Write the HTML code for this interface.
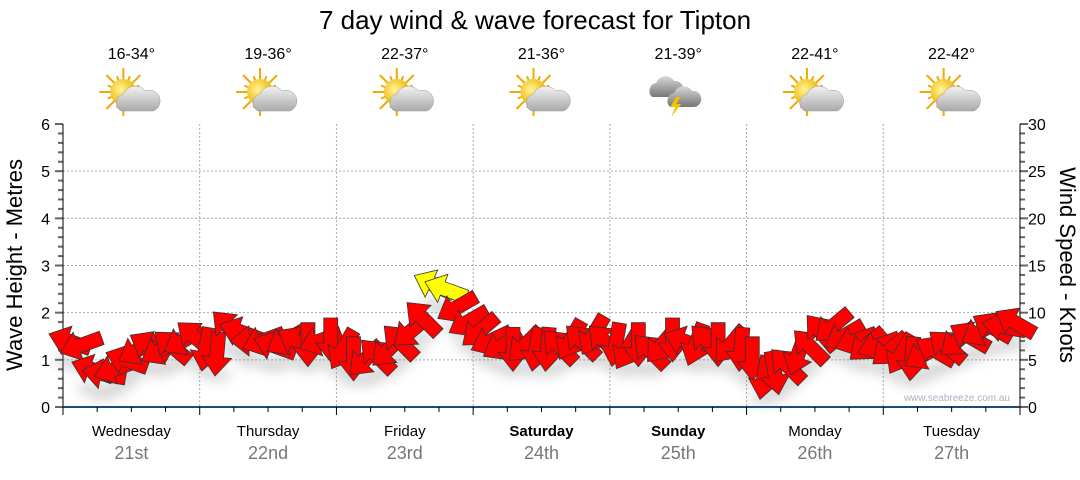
<!DOCTYPE html>
<html><head><meta charset="utf-8"><style>
body{margin:0;background:#fff;width:1080px;height:475px;overflow:hidden;font-family:"Liberation Sans",sans-serif}
</style></head><body>
<svg id="c" width="1080" height="475" xmlns="http://www.w3.org/2000/svg" font-family="Liberation Sans, sans-serif">
<defs>
<filter id="sh" x="-50%" y="-50%" width="200%" height="200%"><feGaussianBlur stdDeviation="6"/></filter>
<radialGradient id="sun" cx="0.4" cy="0.4" r="0.6"><stop offset="0" stop-color="#fff59a"/><stop offset="1" stop-color="#f0b400"/></radialGradient>
<linearGradient id="cloud" x1="0" y1="0" x2="0" y2="1"><stop offset="0" stop-color="#f2f2f2"/><stop offset="1" stop-color="#a9a9a9"/></linearGradient>
<linearGradient id="dcloud" x1="0" y1="0" x2="0" y2="1"><stop offset="0" stop-color="#d8d8d8"/><stop offset="1" stop-color="#777"/></linearGradient>
</defs>
<text x="535" y="29" font-size="26" text-anchor="middle" fill="#000">7 day wind &amp; wave forecast for Tipton</text>
<g id="grid"></g><g id="axes"></g><g id="topg"></g><g id="marks"></g>
<text x="1010" y="401" font-size="10" text-anchor="end" fill="#aab4c4">www.seabreeze.com.au</text>
<text transform="translate(22,265) rotate(-90)" font-size="22" text-anchor="middle">Wave Height - Metres</text>
<text transform="translate(1060,265) rotate(90)" font-size="22" text-anchor="middle">Wind Speed - Knots</text>
</svg>
<script>
const days=["Wednesday","Thursday","Friday","Saturday","Sunday","Monday","Tuesday"];
const dates=["21st","22nd","23rd","24th","25th","26th","27th"];
const temps=["16-34°","19-36°","22-37°","21-36°","21-39°","22-41°","22-42°"];
const icons=["partly","partly","partly","partly","storm","partly","partly"];
const weekend=[false,false,false,true,true,false,false];
const waveTicks=[0,1,2,3,4,5,6];
const windTicks=[0,5,10,15,20,25,30];
const windKnots=[7,6.5,4,3.5,4,5,6,6.5,6,6.5,7,7.5,
6,5.5,8.5,8,7,7,6.5,7,7,6.5,7,7,
6,5,5,5.5,6,7,8,9.5,13,12.5,10.5,9,
8,7,6.5,6,6.5,6,6,6.5,7,7,7.5,7,
6.5,6,6.5,6,6.5,7,7,6.5,7,6.5,6.5,6,
5,3,3.5,4.5,5.5,6.5,8,8.5,7.5,7,6.5,6.5,
6,5.5,5,5.5,6,6.5,7,7.5,8,8.5,8.5,9];
const windDir=[200,160,200,190,160,200,150,210,150,220,150,220,
100,95,225,200,180,160,200,150,210,90,160,90,
120,90,135,225,135,225,140,225,205,200,150,150,
140,155,150,90,135,100,95,225,120,225,120,225,
100,120,90,225,130,90,200,110,225,90,130,95,
90,100,80,225,110,225,230,140,150,160,140,160,
140,120,95,150,210,220,140,210,150,210,190,210];
const svg=document.getElementById('c');const NS="http://www.w3.org/2000/svg";
const X0=63,X1=1020,Y0=407,Y1=124,DW=(X1-X0)/7;
const yW=v=>Y0-(v/6)*(Y0-Y1);const yK=v=>Y0-(v/30)*(Y0-Y1);
const xT=i=>X0+(i+0.5)*DW/12;
function el(t,a,p){const e=document.createElementNS(NS,t);for(const k in a)e.setAttribute(k,a[k]);(p||svg).appendChild(e);return e;}
const grid=document.getElementById('grid'),axes=document.getElementById('axes'),topG=document.getElementById('topg'),marks=document.getElementById('marks');
waveTicks.forEach(v=>{if(v>0&&v<6){const l=el('line',{x1:X0,x2:X1,y1:yW(v),y2:yW(v),stroke:'#aaa','stroke-dasharray':'2,2'},grid);}
const t=el('text',{x:X0-13,y:yW(v)+6,'font-size':16,'text-anchor':'end'},axes);t.textContent=v;});
windTicks.forEach(v=>{const t=el('text',{x:X1+8,y:yK(v)+6,'font-size':16},axes);t.textContent=v;});
for(let i=1;i<7;i++){const l=el('line',{x1:X0+i*DW,x2:X0+i*DW,y1:Y1,y2:Y0,stroke:'#aaa','stroke-dasharray':'2,2'},grid);}
for(let i=0;i<=30;i++){const y=Y0-i*(Y0-Y1)/30,w=i%5==0?8:5;el('line',{x1:X0-w,x2:X0,y1:y,y2:y,stroke:'#666','stroke-width':2},axes);el('line',{x1:X1,x2:X1+w,y1:y,y2:y,stroke:'#666','stroke-width':2},axes);}
el('line',{x1:X0,x2:X0,y1:Y1,y2:Y0+7,stroke:'#000'},axes);el('line',{x1:X1,x2:X1,y1:Y1,y2:Y0+7,stroke:'#000'},axes);
el('line',{x1:X0,x2:X1,y1:Y0,y2:Y0,stroke:'#1a4a7a','stroke-width':2},axes);
for(let i=0;i<=28;i++){const x=X0+i*DW/4;el('line',{x1:x,x2:x,y1:Y0,y2:Y0+(i%4==0?8:5),stroke:'#000'},axes);}
days.forEach((d,i)=>{const cx=X0+(i+0.5)*DW;
const a=el('text',{x:cx,y:436,'font-size':15,'text-anchor':'middle','font-weight':weekend[i]?'bold':'normal'},axes);a.textContent=d;
const b=el('text',{x:cx,y:459,'font-size':18,'text-anchor':'middle',fill:'#777'},axes);b.textContent=dates[i];
const t=el('text',{x:cx,y:59,'font-size':16,'text-anchor':'middle'},topG);t.textContent=temps[i];
const g=el('g',{transform:`translate(${cx-4},${95})`},topG);
if(icons[i]=='partly'){for(let k=0;k<16;k++){const an=k*Math.PI/8,r=k%2?17:24;el('line',{x1:-4,y1:-3,x2:-4+Math.cos(an)*r,y2:-3+Math.sin(an)*r,stroke:'#f0a800','stroke-width':2},g);}
el('circle',{cx:-4,cy:-3,r:13,fill:'url(#sun)'},g);
el('path',{d:'M-6,16 a9,9 0 0 1 2,-17 a13,13 0 0 1 22,-3 a9,9 0 0 1 8,20 z',fill:'url(#cloud)',stroke:'#999','stroke-width':0.5},g);}
else{el('path',{d:'M-22,2 a8,8 0 0 1 4,-14 a10,10 0 0 1 18,-2 a7,7 0 0 1 2,16 z',fill:'url(#dcloud)'},g);
el('path',{d:'M-4,12 a8,8 0 0 1 4,-14 a10,10 0 0 1 18,-2 a7,7 0 0 1 2,16 z',fill:'url(#dcloud)'},g);
el('path',{d:'M2,2 l-6,10 h5 l-4,10 l10,-13 h-5 l4,-7z',fill:'#f5c400'},g);}});
const arrow='M21,0 L2,-15 L2,-7 L-23,-7 L-23,7 L2,7 L2,15 Z';
const sh=el('g',{filter:'url(#sh)',opacity:0.35},marks);
windKnots.forEach((v,i)=>{el('ellipse',{cx:xT(i),cy:yK(v)+20,rx:14,ry:6,fill:'#888'},sh);});
windKnots.forEach((v,i)=>{const p=el('path',{d:arrow,transform:`translate(${xT(i)},${yK(v)}) rotate(${windDir[i]})`,fill:v>=12?'#ffff00':'#ff0000',stroke:'#333','stroke-width':0.8},marks);

});
</script>
</body></html>
